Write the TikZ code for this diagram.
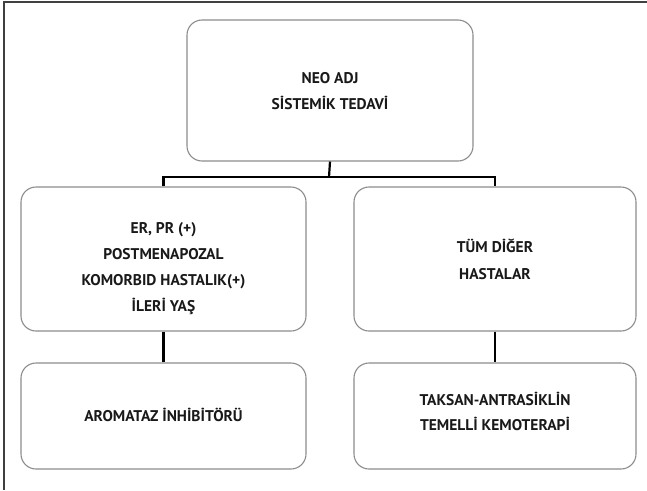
\documentclass[tikz,border=0pt]{standalone}
\usepackage{fontspec}
\setmainfont{PT Sans}
\begin{document}
\begin{tikzpicture}[x=1pt,y=-1pt,
  box/.style={draw=black!45, line width=1.1pt, rounded corners=15pt, inner sep=0pt},
  txt/.style={inner sep=0pt, align=center, font=\bfseries\fontsize{15.5}{26}\selectfont, text=black!90},
  conn/.style={draw=black, line width=2.2pt},
  frame/.style={draw=black!75, line width=1.6pt}]
\useasboundingbox (0,0) rectangle (647,490);
\draw[frame] (4,490) -- (4,2) -- (647,2);
\node[box, minimum width=286pt, minimum height=141pt,
  label={[txt, yshift=-1pt]center:{NEO ADJ\\SİSTEMİK TEDAVİ}}] (top) at (330,90.5) {};
\node[box, minimum width=285pt, minimum height=144pt,
  label={[txt, yshift=-10pt]center:{ER, PR (+)\\POSTMENAPOZAL\\KOMORBID HASTALIK(+)\\İLERİ YAŞ}}] (ml) at (163.5,259) {};
\node[box, minimum width=282pt, minimum height=144pt,
  label={[txt, font=\bfseries\fontsize{15.5}{27}\selectfont]center:{TÜM DİĞER\\HASTALAR}}] (mr) at (495,259) {};
\node[box, minimum width=285pt, minimum height=106pt,
  label={[txt, yshift=1pt]center:{AROMATAZ İNHİBİTÖRÜ}}] (bl) at (163.5,416) {};
\node[box, minimum width=282pt, minimum height=106pt,
  label={[txt, yshift=5pt, font=\bfseries\fontsize{15.5}{25}\selectfont]center:{TAKSAN-ANTRASİKLİN\\TEMELLİ KEMOTERAPİ}}] (br) at (495,416) {};
\coordinate (j) at (329,177);
\draw[conn] (top.south) -- (j);
\draw[conn] (ml.north) |- (j) -| (mr.north);
\draw[conn] (ml.south) -- (bl.north);
\draw[conn] (mr.south) -- (br.north);
\end{tikzpicture}
\end{document}
